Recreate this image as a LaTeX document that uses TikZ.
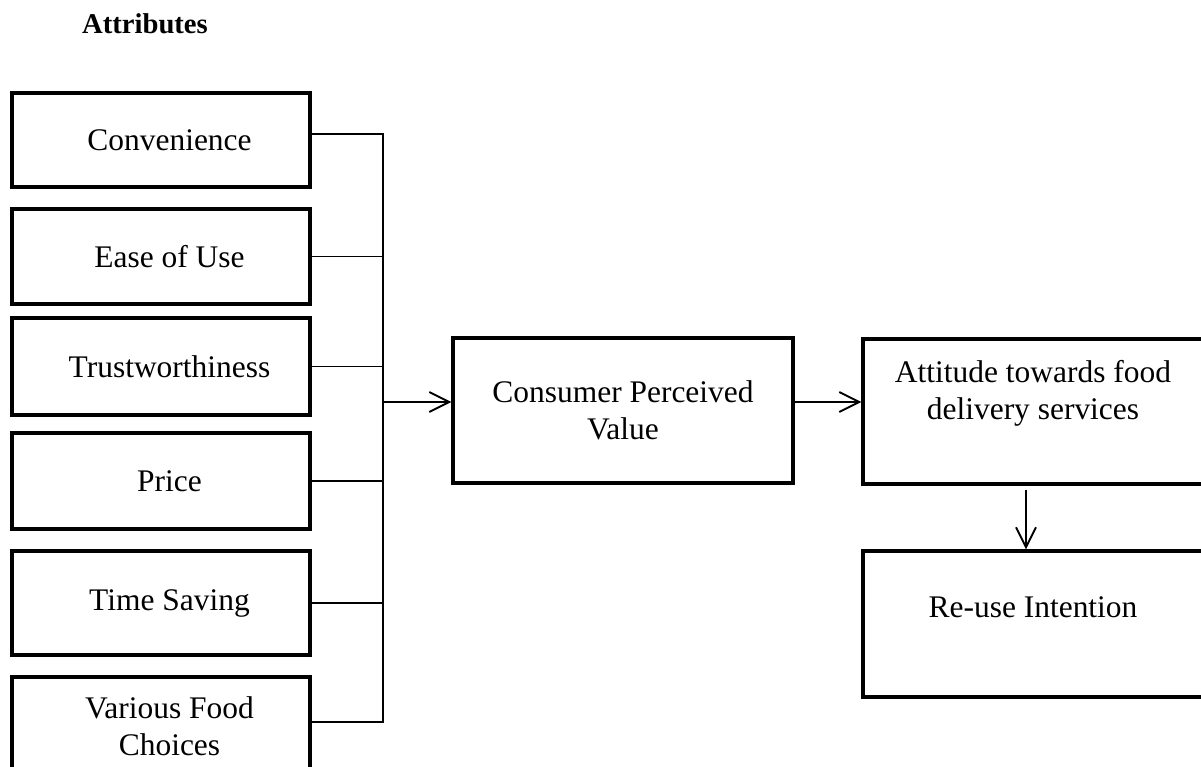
\documentclass[tikz,border=0pt]{standalone}
\usepackage{fontspec}
\setmainfont{Liberation Serif}
\usetikzlibrary{arrows.meta}
\newcommand{\indt}{\hspace*{0.34cm}}

\begin{document}
\begin{tikzpicture}[>={Straight Barb[length=0.4cm,width=0.4cm]},
    attr/.style={draw,line width=1.8pt,minimum width=5.96cm,align=center,
      font=\fontsize{17.9}{21.3}\selectfont},
    stage/.style={draw,line width=1.8pt,minimum width=6.8cm,inner sep=0pt,align=center,
      font=\fontsize{17.9}{21.3}\selectfont},
    link/.style={line width=1.1pt}]
      \useasboundingbox (0,0) rectangle (24.02,-15.34);

      \node at (2.9,-0.68) [anchor=base, font=\fontsize{16.3}{19}\selectfont\bfseries, name=head]
      {Attributes};

      % attributes
      \node at (3.22,-2.80) [attr, minimum height=1.88cm, name=conv] {\indt Convenience};
      \node at (3.22,-5.13) [attr, minimum height=1.90cm, name=ease] {\indt Ease of Use};
      \node at (3.22,-7.33) [attr, minimum height=1.94cm, name=trust] {\indt Trustworthiness};
      \node at (3.22,-9.62) [attr, minimum height=1.92cm, name=price] {\indt Price};
      \node at (3.22,-12.06) [attr, minimum height=2.08cm, name=time] {\indt Time Saving};
      \node at (3.22,-14.52) [attr, minimum height=1.96cm, name=food]
      {\indt Various Food\\ \indt Choices};

      % stages (text height is taken to the last line)
      \node at (12.46,-8.21) [stage, text height=2.04cm, text depth=0.86cm, name=cpv]
      {Consumer Perceived\\ Value};
      \node at (20.66,-8.23) [stage, text height=1.62cm, text depth=1.28cm, name=att]
      {Attitude towards food\\ delivery services};
      \node at (20.66,-12.48) [stage, text height=1.32cm, text depth=1.60cm, name=reuse]
      {Re-use Intention};

      \coordinate (bus) at (7.66,-8.04);
      \draw [link] ([yshift=0.12cm]conv.east) -| (bus);
      \draw [link] ([yshift=0.08cm]food.east) -| (bus);
      \foreach \n in {ease,trust,price,time}
        \draw [link] (\n.east) -- (\n.east -| bus);

      \draw [link,->] (bus) -- (bus -| cpv.west);
      \draw [link,->] (cpv.east |- bus) -- (att.west |- bus);
      \draw [link,->,shorten <=0.08cm] ([xshift=-0.14cm]att.south) -- ([xshift=-0.14cm]reuse.north);
    \end{tikzpicture}
\end{document}
